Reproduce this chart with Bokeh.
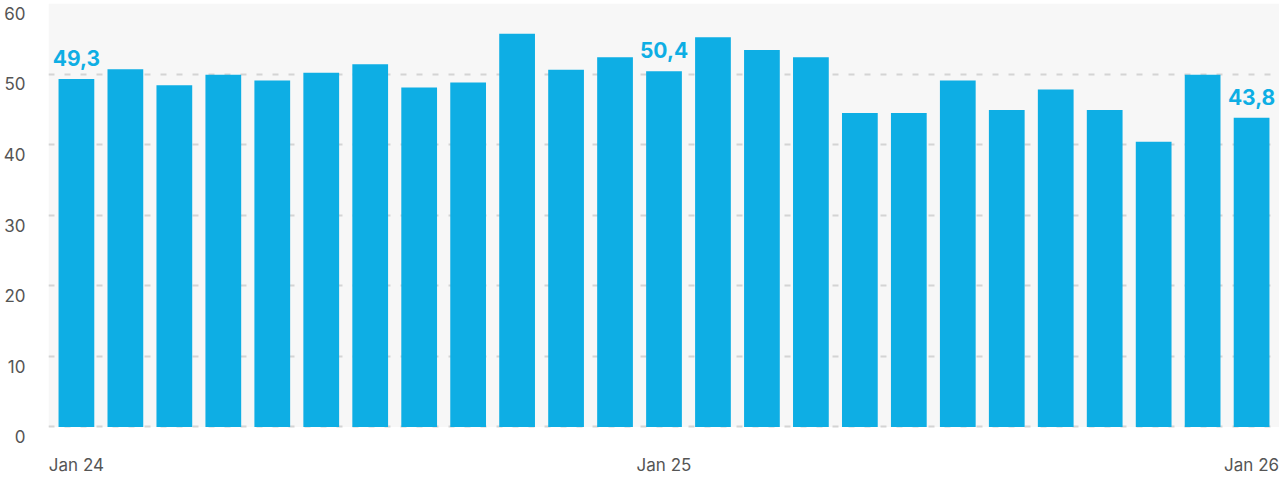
from bokeh.plotting import figure
from bokeh.models import ColumnDataSource, FixedTicker, Range1d, LinearAxis, BoxAnnotation
from bokeh.core.properties import value
from bokeh.embed import file_html
from bokeh.resources import INLINE

# Data
months = ["Jan 24", "Feb 24", "Mar 24", "Apr 24", "May 24", "Jun 24", "Jul 24",
          "Aug 24", "Sep 24", "Oct 24", "Nov 24", "Dec 24", "Jan 25", "Feb 25",
          "Mar 25", "Apr 25", "May 25", "Jun 25", "Jul 25", "Aug 25", "Sep 25",
          "Oct 25", "Nov 25", "Dec 25", "Jan 26"]
values = [49.3, 50.7, 48.4, 49.9, 49.1, 50.2, 51.4, 48.1, 48.8, 55.7, 50.6, 52.4,
          50.4, 55.2, 53.4, 52.4, 44.5, 44.5, 49.1, 44.9, 47.8, 44.9, 40.4, 49.9, 43.8]
y_ticks = [0, 10, 20, 30, 40, 50, 60]
tick_months = ["Jan 24", "Jan 25", "Jan 26"]
label_months = ["Jan 24", "Jan 25", "Jan 26"]
label_texts = ["49,3", "50,4", "43,8"]

FONT = "Inter"
BAR = "#0eaee4"
PAD = 1.5       # room below zero for the "0" tick label (data units)
LAB_SHIFT = 1.39  # tick labels hang this far below their gridlines

idx = list(range(len(months)))
src = ColumnDataSource(dict(x=idx, top=values))
lab_x = [months.index(m) for m in label_months]
lab_src = ColumnDataSource(dict(x=lab_x, y=[values[i] for i in lab_x], t=label_texts))

p = figure(width=1279, height=477, output_backend="svg", toolbar_location=None,
           x_range=Range1d(-0.57, len(months) - 1 + 0.57),
           y_range=Range1d(y_ticks[0] - PAD, y_ticks[-1]),
           y_axis_location=None,
           min_border_left=40, min_border_right=0, min_border_top=3, min_border_bottom=31)

p.background_fill_color = "white"
p.border_fill_color = "white"
p.outline_line_color = None

# light grey plotting band from 0 to 60
p.add_layout(BoxAnnotation(bottom=y_ticks[0], top=y_ticks[-1], fill_color="#f7f7f7",
                           fill_alpha=1, line_color=None, level="image"))

p.vbar(x="x", top="top", width=0.73, bottom=0, source=src, color=BAR, line_color=None)

p.text(x="x", y="y", text="t", source=lab_src, text_font=value(FONT),
       text_font_style="bold", text_font_size="21px", text_color=BAR,
       text_align="center", text_baseline="alphabetic", y_offset=-21)

p.xgrid.grid_line_color = None
p.ygrid.grid_line_color = "#d4d4d4"
p.ygrid.grid_line_width = 2
p.ygrid.grid_line_dash = "6 10"
p.ygrid.ticker = FixedTicker(ticks=y_ticks)
p.ygrid.level = "underlay"

p.extra_y_ranges = {"lab": Range1d(y_ticks[0] - PAD + LAB_SHIFT, y_ticks[-1] + LAB_SHIFT)}
yax = LinearAxis(y_range_name="lab", ticker=FixedTicker(ticks=y_ticks))
yax.axis_line_color = None
yax.major_tick_line_color = None
yax.minor_tick_line_color = None
yax.major_label_text_font = FONT
yax.major_label_text_font_size = "17px"
yax.major_label_text_color = "#555555"
yax.major_label_standoff = 17
p.add_layout(yax, "left")

tick_pos = [months.index(m) for m in tick_months]
p.xaxis.ticker = FixedTicker(ticks=tick_pos)
p.xaxis.major_label_overrides = {i: m for i, m in zip(tick_pos, tick_months)}
p.xaxis.axis_line_color = None
p.xaxis.major_tick_line_color = None
p.xaxis.minor_tick_line_color = None
p.xaxis.major_label_text_font = FONT
p.xaxis.major_label_text_font_size = "17px"
p.xaxis.major_label_text_color = "#555555"
p.xaxis.major_label_standoff = 11

open("out.html", "w").write(file_html(p, INLINE))
